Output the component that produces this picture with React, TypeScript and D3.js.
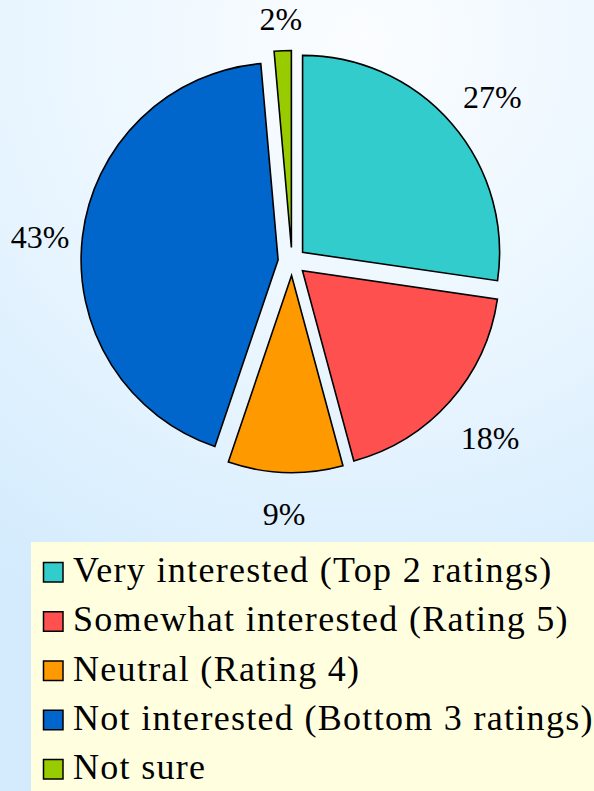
import React from "react";
import * as d3 from "d3";

const categories = [
  "Very interested (Top 2 ratings)",
  "Somewhat interested (Rating 5)",
  "Neutral (Rating 4)",
  "Not interested (Bottom 3 ratings)",
  "Not sure",
];
const shares = [27.3, 18.5, 9.4, 43.4, 1.4];
const percentLabels = ["27%", "18%", "9%", "43%", "2%"];
const colors = ["#33CCCC", "#FF5050", "#FF9900", "#0066CC", "#99CC00"];

const W = 594;
const H = 791;
const CX = 292;
const CY = 261.5;
const R = 197;
const EXPLODE = 14;
const FONT = '"Liberation Serif", "DejaVu Serif", "Times New Roman", serif';

export default function App() {
  const pie = d3
    .pie<number>()
    .sort(null)
    .value((d) => d)
    .startAngle(0)
    .endAngle(2 * Math.PI);
  const arcs = pie(shares);
  const arcGen = d3.arc<d3.PieArcDatum<number>>().innerRadius(0).outerRadius(R);

  const legendTop = 562;
  const legendStep = 49.25;

  return (
    <svg
      width={W}
      height={H}
      viewBox={`0 0 ${W} ${H}`}
      style={{ position: "absolute", left: 0, top: 0, display: "block" }}
    >
      <defs>
        <radialGradient
          id="bg"
          gradientUnits="userSpaceOnUse"
          cx={360}
          cy={40}
          r={640}
        >
          <stop offset="0" stopColor="#fbfdff" />
          <stop offset="0.5" stopColor="#eaf6ff" />
          <stop offset="1" stopColor="#d3ebfd" />
        </radialGradient>
      </defs>
      <rect x={0} y={0} width={W} height={H} fill="url(#bg)" />

      <g>
        {arcs.map((a, i) => {
          const mid = (a.startAngle + a.endAngle) / 2;
          const dx = Math.sin(mid) * EXPLODE;
          const dy = -Math.cos(mid) * EXPLODE;
          return (
            <path
              key={i}
              d={arcGen(a) || ""}
              transform={`translate(${CX + dx},${CY + dy})`}
              fill={colors[i]}
              stroke="#000"
              strokeWidth={1.6}
              strokeLinejoin="miter"
            />
          );
        })}
      </g>

      <g fill="#000">
        {arcs.map((a, i) => {
          const mid = (a.startAngle + a.endAngle) / 2;
          const ux = Math.sin(mid);
          const uy = -Math.cos(mid);
          const base = R + EXPLODE + 25;
          const hw = (percentLabels[i].length * 0.6 * 32) / 2;
          const kx = Math.min(1, 0.5 + Math.abs(uy));
          const hh = 11 + 24 * Math.abs(ux * uy);
          const x = CX + ux * (base + hw * kx);
          const y = CY + uy * (base + hh) + 5;
          return (
            <text
              key={i}
              x={x}
              y={y + 11}
              textAnchor="middle"
              style={{ fontFamily: FONT, fontSize: 32 }}
            >
              {percentLabels[i]}
            </text>
          );
        })}
      </g>

      <rect x={31} y={542} width={W - 31} height={H - 542} fill="#FFFFE0" />
      <g fill="#000">
        {categories.map((c, i) => {
          const top = legendTop + i * legendStep;
          return (
            <g key={i}>
              <rect
                x={43.5}
                y={top + 0.5}
                width={19.5}
                height={19.5}
                fill={colors[i]}
                stroke="#000"
                strokeWidth={1.5}
              />
              <text
                x={73}
                y={top + 20}
                style={{ fontFamily: FONT, fontSize: 36, letterSpacing: 1.3 }}
              >
                {c}
              </text>
            </g>
          );
        })}
      </g>
    </svg>
  );
}
